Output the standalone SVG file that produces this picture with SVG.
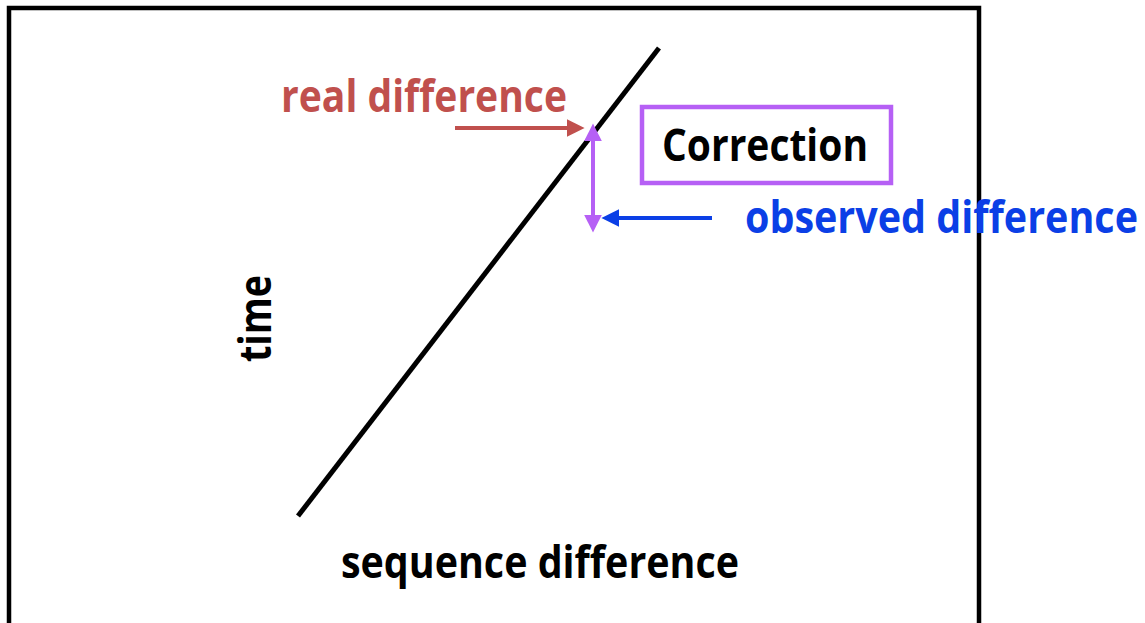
<svg xmlns="http://www.w3.org/2000/svg" width="1145" height="623" viewBox="0 0 1145 623">
  <style>
    .lbl { font-family: "Open Sans", "Liberation Sans", sans-serif; font-weight: bold; font-size: 44px; }
    .conn { fill: none; stroke-width: 4; }
  </style>
  <defs>
    <marker id="headRed" viewBox="0 0 10 10" refX="3" refY="5" markerWidth="4.5" markerHeight="4.5" orient="auto-start-reverse" markerUnits="strokeWidth">
      <path d="M0,0 L10,5 L0,10 z" fill="#C0504D"/>
    </marker>
    <marker id="headPurple" viewBox="0 0 10 10" refX="3" refY="5" markerWidth="4.5" markerHeight="4.5" orient="auto-start-reverse" markerUnits="strokeWidth">
      <path d="M0,0 L10,5 L0,10 z" fill="#B660F5"/>
    </marker>
    <marker id="headBlue" viewBox="0 0 10 10" refX="3" refY="5" markerWidth="4.5" markerHeight="4.5" orient="auto-start-reverse" markerUnits="strokeWidth">
      <path d="M0,0 L10,5 L0,10 z" fill="#0B3FE6"/>
    </marker>
  </defs>
  <rect width="1145" height="623" fill="#ffffff"/>
  <g id="frame">
    <rect x="9" y="8" width="970" height="640" fill="none" stroke="#000" stroke-width="4.5"/>
  </g>
  <g id="trend-line">
    <line x1="298" y1="516" x2="659" y2="48" stroke="#000" stroke-width="5"/>
  </g>
  <g id="real-difference">
    <text class="lbl" x="281" y="112" fill="#C0504D" textLength="286" lengthAdjust="spacingAndGlyphs">real difference</text>
  </g>
  <g id="correction">
    <rect x="642" y="107" width="249" height="76" fill="none" stroke="#B660F5" stroke-width="4.5"/>
    <text class="lbl" x="662" y="161" fill="#000" textLength="206" lengthAdjust="spacingAndGlyphs">Correction</text>
  </g>
  <g id="observed-difference">
    <text class="lbl" x="745" y="233" fill="#0B3FE6" textLength="393" lengthAdjust="spacingAndGlyphs">observed difference</text>
  </g>
  <g id="time-label">
    <text class="lbl" transform="translate(271,362) rotate(-90)" x="0" y="0" fill="#000" textLength="87" lengthAdjust="spacingAndGlyphs">time</text>
  </g>
  <g id="sequence-label">
    <text class="lbl" x="341" y="578" fill="#000" textLength="398" lengthAdjust="spacingAndGlyphs">sequence difference</text>
  </g>
  <g id="connectors">
    <line class="conn" x1="455" y1="128" x2="572" y2="128" stroke="#C0504D" marker-end="url(#headRed)"/>
    <line class="conn" x1="593" y1="136" x2="593" y2="220" stroke="#B660F5" marker-start="url(#headPurple)" marker-end="url(#headPurple)"/>
    <line class="conn" x1="712" y1="218" x2="614" y2="218" stroke="#0B3FE6" marker-end="url(#headBlue)"/>
  </g>
</svg>
